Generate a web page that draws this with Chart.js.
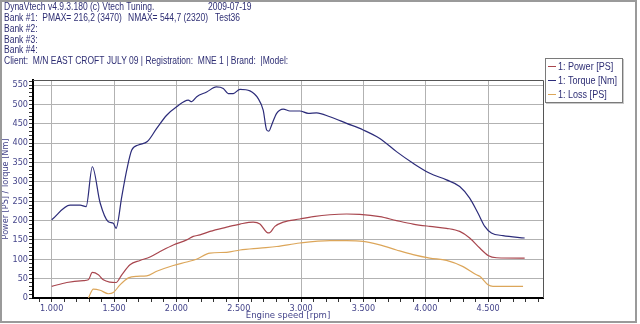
<!DOCTYPE html>
<html><head><meta charset="utf-8">
<script src="https://cdn.jsdelivr.net/npm/chart.js@4"></script>
<style>
html,body{margin:0;padding:0;background:#fff;}
#wrap{position:relative;width:640px;height:324px;overflow:hidden;background:#fff;}
#c{position:absolute;left:0;top:0;}
#frame{position:absolute;left:0;top:0;width:637px;height:323px;box-sizing:border-box;border:2px solid #9a9a9a;pointer-events:none;}
.hd{position:absolute;font-family:"Liberation Sans",Arial,sans-serif;font-size:10px;line-height:11px;color:#2e2e74;white-space:pre;transform:scaleX(0.85);transform-origin:0 0;}
#legend{position:absolute;left:545px;top:58px;width:78px;height:45px;box-sizing:border-box;border:1px solid #7a7a7a;background:#fff;box-shadow:1px 1px 0 #c8c8c8;}
.sw{position:absolute;left:2px;width:8px;height:1px;}
.lt{position:absolute;left:12px;font-family:"Liberation Sans",Arial,sans-serif;font-size:10.5px;line-height:12px;color:#2e2e74;white-space:pre;transform:scaleX(0.86);transform-origin:0 0;}
</style>
</head><body>
<div id="wrap">
<canvas id="c" width="640" height="324"></canvas>
<div class="hd" style="left:4px;top:1px">DynaVtech v4.9.3.180 (c) Vtech Tuning.</div>
<div class="hd" style="left:208px;top:1px">2009-07-19</div>
<div class="hd" style="left:4px;top:12px">Bank #1:  PMAX= 216,2 (3470)</div>
<div class="hd" style="left:128px;top:12px">NMAX= 544,7 (2320)</div>
<div class="hd" style="left:215px;top:12px">Test36</div>
<div class="hd" style="left:4px;top:23px">Bank #2:</div>
<div class="hd" style="left:4px;top:34px">Bank #3:</div>
<div class="hd" style="left:4px;top:44px">Bank #4:</div>
<div class="hd" style="left:4px;top:55px">Client:  M/N EAST CROFT JULY 09 | Registration:  MNE 1 | Brand:  |Model:</div>
<div id="legend"></div>
<div id="frame"></div>
</div>
<script>
// ---- data ----
const torqueRpm = [1000,1147,1228,1276,1326,1388,1454,1494,1516,1562,1602,1642,1695,1767,1842,1922,2002,2095,2123,2163,2243,2320,2376,2416,2456,2510,2590,2656,2696,2724,2742,2764,2804,2857,2910,2990,3057,3124,3231,3365,3498,3631,3765,3898,4032,4166,4272,4352,4419,4473,4526,4619,4793];
const torqueNm  = [202,240,240,236,339,246,197,193,180,262,331,382,395,404,438,472,494,511,507,520,532,545,541,528,528,539,535,515,485,434,431,447,477,488,483,483,477,478,468,451,434,412,378,348,322,305,288,258,219,185,168,161,155];

const powerRpm = [1000,1121,1254,1294,1326,1374,1414,1468,1516,1562,1628,1708,1788,1869,1975,2083,2135,2189,2269,2403,2510,2616,2670,2724,2744,2790,2857,2990,3097,3231,3365,3470,3631,3765,3898,4032,4166,4272,4352,4433,4499,4567,4793];
const powerPs  = [30,40,45,47,66,60,47,41,40,60,86,97,106,120,137,150,159,163,172,183,191,196,191,170,168,185,196,204,210,215,217,216,210,200,191,185,180,172,155,129,110,104,103];

const lossRpm = [1294,1334,1388,1454,1494,1548,1615,1682,1762,1842,1975,2083,2160,2269,2403,2510,2670,2804,2990,3231,3365,3498,3631,3765,3898,4032,4166,4299,4406,4433,4499,4539,4780];
const lossPs  = [0,23,20,11,14,34,52,56,57,69,84,93,100,116,118,124,129,133,142,148,148,146,137,124,112,103,97,81,60,56,34,30,30];

const seriesNames = ['1: Power [PS]','1: Torque [Nm]','1: Loss [PS]'];
const seriesColors = ['#a8464e','#2c2c7a','#dca65a'];

const xTickValues = [1000,1500,2000,2500,3000,3500,4000,4500];
const xTickLabels = ['1.000','1.500','2.000','2.500','3.000','3.500','4.000','4.500'];
const yTickValues = [0,50,100,150,200,250,300,350,400,450,500,550];
const yTickLabels = ['0','50','100','150','200','250','300','350','400','450','500','550'];

// ---- legend (HTML text) ----
const leg = document.getElementById('legend');
seriesNames.forEach((n,i)=>{
  const cy = 7 + i*14;
  const sw = document.createElement('div'); sw.className='sw';
  sw.style.top = cy+'px'; sw.style.background = seriesColors[i];
  const t = document.createElement('div'); t.className='lt';
  t.style.top = (cy-6)+'px'; t.textContent = n;
  leg.appendChild(sw); leg.appendChild(t);
});

const pts = (xs,ys)=>xs.map((x,i)=>({x:x,y:ys[i]}));
const FONT = '"Liberation Sans Narrow","DejaVu Sans Condensed","Liberation Sans",Arial,sans-serif';
const TXT = '#44448a';

const frameLines = {
  id:'frameLines',
  beforeDatasetsDraw(chart){
    const {ctx, chartArea:a} = chart;
    ctx.save();
    ctx.strokeStyle = '#555';
    ctx.lineWidth = 1;
    ctx.beginPath();
    ctx.moveTo(a.left, a.top+0.5); ctx.lineTo(a.right+0.5, a.top+0.5); ctx.lineTo(a.right+0.5, a.bottom);
    ctx.stroke();
    ctx.restore();
  }
};

const minorX = []; for (let v=900; v<=4900; v+=100) minorX.push(v);
const minorY = []; for (let v=0; v<=560; v+=10) minorY.push(v);

new Chart(document.getElementById('c'), {
  type:'line',
  data:{ datasets:[
    {label:seriesNames[0], data:pts(powerRpm,powerPs), borderColor:seriesColors[0]},
    {label:seriesNames[1], data:pts(torqueRpm,torqueNm), borderColor:seriesColors[1]},
    {label:seriesNames[2], data:pts(lossRpm,lossPs), borderColor:seriesColors[2]}
  ]},
  options:{
    responsive:false, animation:false, devicePixelRatio:1,
    layout:{padding:{top:80,right:97,left:0,bottom:0}},
    elements:{point:{radius:0}, line:{borderWidth:1.2, cubicInterpolationMode:'monotone', fill:false}},
    plugins:{legend:{display:false}, tooltip:{enabled:false}, title:{display:false}},
    scales:{
      x:{
        type:'linear', min:850, max:4940,
        afterBuildTicks(s){ s.ticks = minorX.map(v=>({value:v})); },
        afterFit(s){ s.height = 26; },
        ticks:{ autoSkip:false, maxRotation:0, padding:1, color:TXT, font:{family:FONT,size:9},
          callback(v){ const i = xTickValues.indexOf(v); return i>=0 ? xTickLabels[i] : ''; } },
        grid:{ color:(c)=> (c.tick && xTickValues.includes(c.tick.value)) ? '#b2b2b2' : 'rgba(0,0,0,0)',
               tickColor:'#333', tickLength:4, lineWidth:1 },
        border:{ display:true, color:'#000', width:2 },
        title:{ display:true, text:'Engine speed [rpm]', color:TXT, font:{family:FONT,size:9.5}, padding:{top:0,bottom:2.5} }
      },
      y:{
        type:'linear', min:0, max:563,
        afterBuildTicks(s){ s.ticks = minorY.map(v=>({value:v})); },
        afterFit(s){ s.width = 33; },
        ticks:{ autoSkip:false, padding:1, color:TXT, font:{family:FONT,size:9},
          callback(v){ const i = yTickValues.indexOf(v); return i>=0 ? yTickLabels[i] : ''; } },
        grid:{ color:(c)=> (c.tick && c.tick.value>0 && yTickValues.includes(c.tick.value)) ? '#b2b2b2' : 'rgba(0,0,0,0)',
               tickColor:'#333', tickLength:4, lineWidth:1 },
        border:{ display:true, color:'#000', width:2 },
        title:{ display:true, text:'Power [PS] / Torque [Nm]', color:TXT, font:{family:FONT,size:9}, padding:{top:0,bottom:0} }
      }
    }
  },
  plugins:[frameLines]
});
</script>
</body></html>
